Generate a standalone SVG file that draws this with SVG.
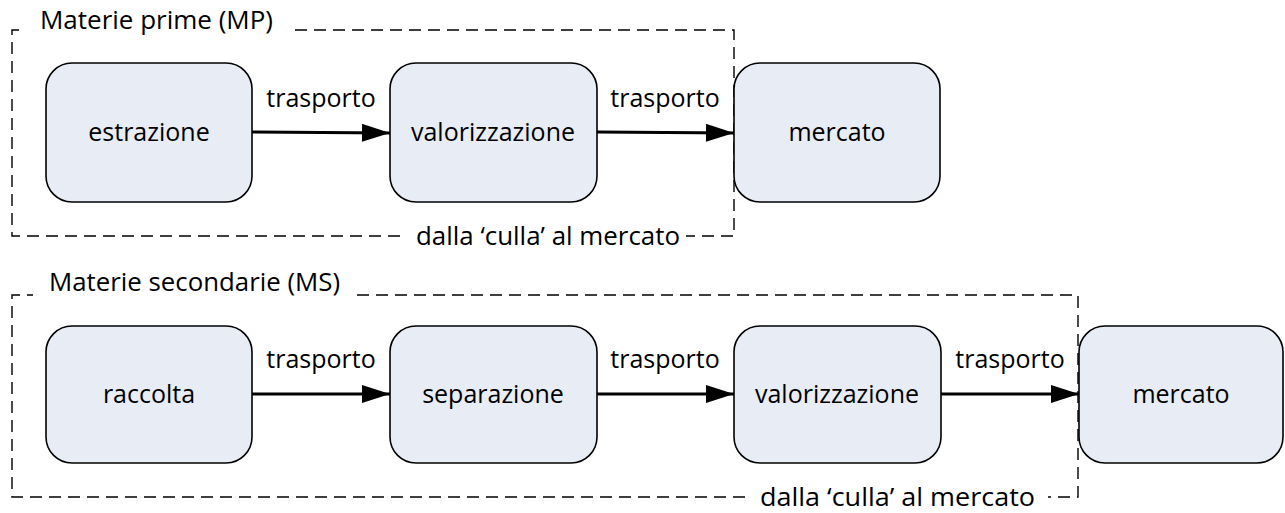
<svg xmlns="http://www.w3.org/2000/svg" width="1285" height="513" viewBox="0 0 1285 513">
<style>
.box{fill:#E8ECF4;stroke:#000;stroke-width:1.6}
.lbl{font-family:"Open Sans","Liberation Sans",sans-serif;font-size:25px;fill:#000}
.mid{text-anchor:middle}
.dash{fill:none;stroke:#000;stroke-width:1.4;stroke-dasharray:12 7}
.arr{fill:none;stroke:#000;stroke-width:3;marker-end:url(#ah)}
</style>
<defs>
<marker id="ah" markerUnits="userSpaceOnUse" markerWidth="28" markerHeight="18" refX="28" refY="9" orient="auto">
<path d="M0,0 L28,9 L0,18 Z" fill="#000"/>
</marker>
</defs>
<g id="group-mp">
<path class="dash" d="M295,30 H734 V236 H686"/>
<path class="dash" d="M400,236 H12 V30 H25"/>
<text class="lbl" x="40" y="29" textLength="233" lengthAdjust="spacingAndGlyphs">Materie prime (MP)</text>
<text class="lbl" x="416" y="245" textLength="264" lengthAdjust="spacingAndGlyphs">dalla ‘culla’ al mercato</text>
</g>
<g id="group-ms">
<path class="dash" d="M357,295 H1078 V497 H1048"/>
<path class="dash" d="M745,497 H12 V295 H33"/>
<text class="lbl" x="49" y="291" textLength="291" lengthAdjust="spacingAndGlyphs">Materie secondarie (MS)</text>
<text class="lbl" x="760" y="506" textLength="275" lengthAdjust="spacingAndGlyphs">dalla ‘culla’ al mercato</text>
</g>
<g id="connectors">
<line class="arr" x1="252" y1="132" x2="390" y2="133"/>
<line class="arr" x1="597" y1="132" x2="734" y2="133"/>
<line class="arr" x1="252" y1="394" x2="390" y2="394"/>
<line class="arr" x1="597" y1="394" x2="734" y2="394"/>
<line class="arr" x1="941" y1="394" x2="1079" y2="394"/>
<text class="lbl mid" x="321" y="107">trasporto</text>
<text class="lbl mid" x="665" y="107">trasporto</text>
<text class="lbl mid" x="321" y="368">trasporto</text>
<text class="lbl mid" x="665" y="368">trasporto</text>
<text class="lbl mid" x="1010" y="368">trasporto</text>
</g>
<g id="n-estrazione"><rect class="box" x="46" y="63" width="206" height="139" rx="26"/><text class="lbl mid" x="149" y="141">estrazione</text></g>
<g id="n-valorizzazione-mp"><rect class="box" x="390" y="63" width="207" height="139" rx="26"/><text class="lbl mid" x="493" y="141">valorizzazione</text></g>
<g id="n-mercato-mp"><rect class="box" x="734" y="63" width="206" height="139" rx="26"/><text class="lbl mid" x="837" y="141">mercato</text></g>
<g id="n-raccolta"><rect class="box" x="46" y="326" width="206" height="137" rx="26"/><text class="lbl mid" x="149" y="403">raccolta</text></g>
<g id="n-separazione"><rect class="box" x="390" y="326" width="207" height="137" rx="26"/><text class="lbl mid" x="493" y="403">separazione</text></g>
<g id="n-valorizzazione-ms"><rect class="box" x="734" y="326" width="207" height="137" rx="26"/><text class="lbl mid" x="837" y="403">valorizzazione</text></g>
<g id="n-mercato-ms"><rect class="box" x="1079" y="326" width="204" height="137" rx="26"/><text class="lbl mid" x="1181" y="403">mercato</text></g>
</svg>
